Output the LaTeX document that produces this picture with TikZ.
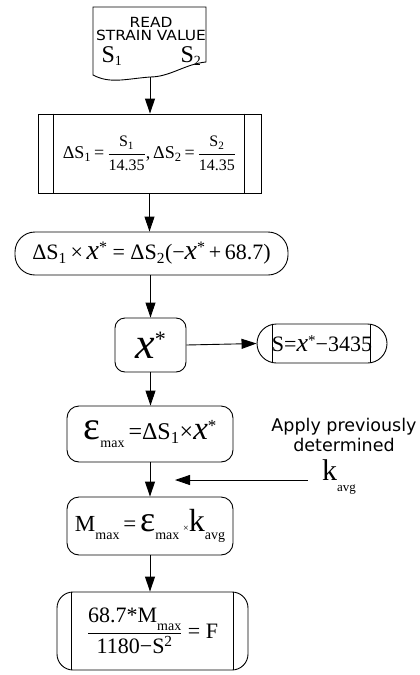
\documentclass[tikz,border=0pt]{standalone}
\usepackage{amsmath}
\usepackage{fontspec}
\setmainfont{Liberation Serif}
\newfontfamily\labelfont{DejaVu Sans}
\usetikzlibrary{arrows.meta}
\newcommand\fsz[1]{\fontsize{#1}{#1}\selectfont}
% #1 size of x, #2 size of star, #3 raise of star (pt)
\newcommand\xst[3]{{\fsz{#1}\itshape x}\raisebox{#3pt}{\fsz{#2}*}}
\newcommand\sub[2]{\raisebox{-0.35em}{\fsz{#1}#2}}
\begin{document}
\begin{tikzpicture}[x=1pt,y=-1pt,line width=0.9pt,
  flow/.style={-{Triangle[length=15pt,width=10pt]}},
  boxtext/.style={inner sep=0pt, align=center},
]
\useasboundingbox (0,0) rectangle (420,675);

% READ document
\draw (93,7) -- (206,7) -- (206,62)
  .. controls (185,64) and (170,77) .. (150,77)
  .. controls (125,79) and (110,84) .. (93,75) -- cycle;
\coordinate (readbot) at (150,77);
\node[boxtext, font=\labelfont] (readtxt) at (151,29)
  {\fsz{14}\scalebox{1.1}[1]{READ}\\[1pt]\fsz{14}\scalebox{1.1}[1]{STRAIN VALUE}};
\node[inner sep=0pt] (s1) at (112,56) {\fsz{24}S\textsubscript{\fsz{14}1}};
\node[inner sep=0pt] (s2) at (191,56) {\fsz{24}S\textsubscript{\fsz{14}2}};

% predefined process
\node[draw, minimum width=223pt, minimum height=79pt, boxtext] (calc) at (149.5,153.5)
  {\fsz{18}ΔS\textsubscript{1}\,=\,$\dfrac{\mbox{\fsz{16}S\textsubscript{1}}}{\mbox{\fsz{16}14.35}}$,\,ΔS\textsubscript{2}\,=\,$\dfrac{\mbox{\fsz{16}S\textsubscript{2}}}{\mbox{\fsz{16}14.35}}$};
\draw ([xshift=16pt]calc.north west) -- ([xshift=16pt]calc.south west);
\draw ([xshift=-17pt]calc.north east) -- ([xshift=-17pt]calc.south east);

% equation
\node[draw, rounded corners=20pt, minimum width=273pt, minimum height=43pt, boxtext] (eqn) at (151.5,253.5)
  {\fsz{22}ΔS\textsubscript{1}\,×\,\xst{28}{16}{7} = ΔS\textsubscript{2}(−\xst{28}{16}{7}\,+\,68.7)};

% x*
\node[draw, rounded corners=10pt, minimum width=71pt, minimum height=54pt, boxtext] (xstar) at (150.5,345)
  {\xst{44}{22}{12}};

% terminal
\node[draw, rounded corners=19.5pt, minimum width=130pt, minimum height=39pt, boxtext] (term) at (322,343.5)
  {\fsz{22}S=\xst{26}{15}{6}−3435};
\draw ([xshift=16pt]term.north west) -- ([xshift=16pt]term.south west);
\draw ([xshift=-17pt]term.north east) -- ([xshift=-17pt]term.south east);

% epsilon max
\node[draw, rounded corners=12pt, minimum width=166pt, minimum height=56pt, boxtext] (emax) at (150,434)
  {\fsz{24}{\fsz{40}ε}\sub{14}{max}\,=ΔS\textsubscript{1}×\xst{33}{17}{8}};

% M max
\node[draw, rounded corners=12pt, minimum width=166pt, minimum height=58pt, boxtext] (mmax) at (150,526)
  {\fsz{23}M\sub{14}{max}\,=\,{\fsz{36}ε}\sub{14}{max}\,{\fsz{10}×}{\fsz{32}k}\sub{14}{avg}};

% force
\node[draw, rounded corners=16pt, minimum width=191pt, minimum height=78pt, boxtext] (force) at (152.5,631)
  {\fsz{22}$\dfrac{\mbox{\fsz{22}68.7*M\sub{14}{max}}}{\mbox{\fsz{22}1180−S\textsuperscript{2}}}$ = F};
\draw ([xshift=15pt]force.north west) -- ([xshift=15pt]force.south west);
\draw ([xshift=-15pt]force.north east) -- ([xshift=-15pt]force.south east);

% side note
\node[boxtext, font=\labelfont] (note) at (344,435)
  {\fsz{17.5}Apply previously\\[2pt]\fsz{17.5}determined};
\node[inner xsep=14pt, inner ysep=0pt] (kavg) at (339,477) {\fsz{30}k\sub{13}{avg}};
\coordinate (kend) at (175,480);

% connectors
\draw[flow] (readbot) -- (readbot |- calc.north);
\draw[flow] (calc.south) -- (calc.south |- eqn.north);
\draw[flow] (xstar.north |- eqn.south) -- (xstar.north);
\draw[flow] (xstar.east) -- (term.west);
\draw[flow] (xstar.south) -- (xstar.south |- emax.north);
\draw[flow] (emax.south) -- (mmax.north);
\draw[flow] (kavg.west |- kend) -- (kend);
\draw[flow] (mmax.south) -- (mmax.south |- force.north);
\end{tikzpicture}
\end{document}
